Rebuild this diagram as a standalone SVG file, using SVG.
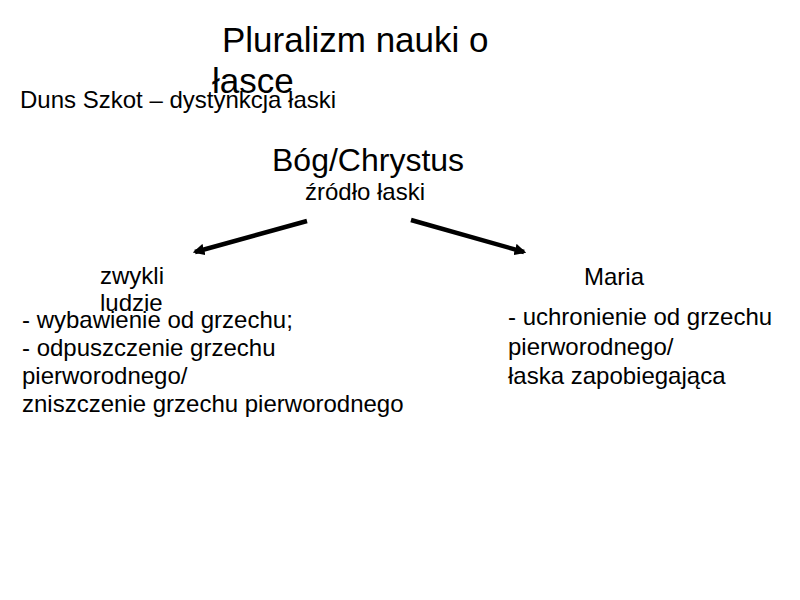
<svg xmlns="http://www.w3.org/2000/svg" width="800" height="600" viewBox="0 0 800 600">
<style>
text{font-family:"Liberation Sans",Arial,sans-serif;fill:#000}
.t{font-size:35px}
.b{font-size:32px}
.m{font-size:24px}
.c{stroke:#000;stroke-width:4.5;fill:none}
</style>
<defs>
<marker id="ah" viewBox="0 0 10 10" refX="8" refY="5" markerWidth="2.6" markerHeight="2.6" orient="auto" markerUnits="strokeWidth">
<path d="M0,0 L10,5 L0,10 Z" fill="#000"/>
</marker>
</defs>
<rect width="800" height="600" fill="#fff"/>
<g id="title">
<text class="t" x="222" y="52">Pluralizm nauki o</text>
<text class="t" x="212" y="93">łasce</text>
</g>
<g id="subtitle">
<text class="m" x="20" y="108">Duns Szkot – dystynkcja łaski</text>
</g>
<g id="source">
<text class="b" x="272" y="171">Bóg/Chrystus</text>
<text class="m" x="305" y="200">źródło łaski</text>
</g>
<g id="connectors">
<line class="c" x1="307" y1="221" x2="195" y2="252" marker-end="url(#ah)"/>
<line class="c" x1="411" y1="220" x2="524" y2="252" marker-end="url(#ah)"/>
</g>
<g id="left">
<text class="m" x="100" y="284">zwykli</text>
<text class="m" x="100" y="311">ludzie</text>
<text class="m" x="22" y="328">- wybawienie od grzechu;</text>
<text class="m" x="22" y="356">- odpuszczenie grzechu</text>
<text class="m" x="22" y="384">pierworodnego/</text>
<text class="m" x="22" y="412">zniszczenie grzechu pierworodnego</text>
</g>
<g id="right">
<text class="m" x="584" y="285">Maria</text>
<text class="m" x="508" y="325">- uchronienie od grzechu</text>
<text class="m" x="508" y="355">pierworodnego/</text>
<text class="m" x="508" y="384">łaska zapobiegająca</text>
</g>
</svg>
